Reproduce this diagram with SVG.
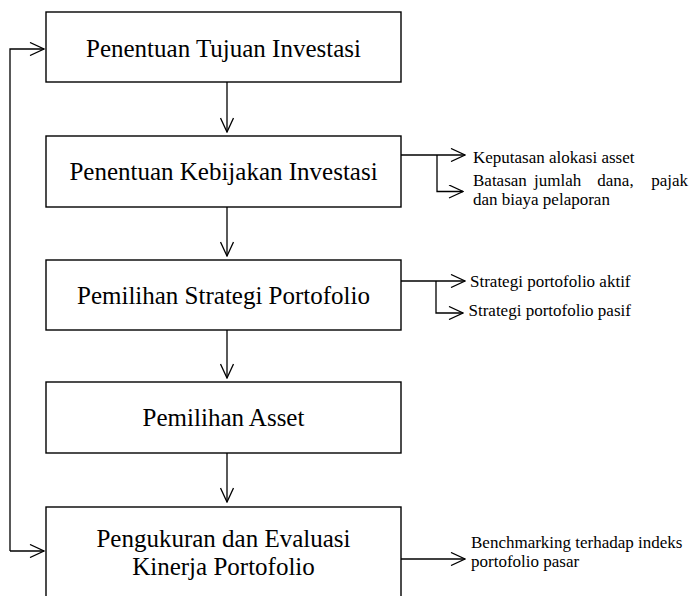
<svg xmlns="http://www.w3.org/2000/svg" width="693" height="596" viewBox="0 0 693 596">
<style>
.box{fill:#fff;stroke:#000;stroke-width:1.4}
.main{font-family:"Liberation Serif","Times New Roman",serif;font-size:25px;fill:#000;text-anchor:middle}
.small{font-family:"Liberation Serif","Times New Roman",serif;font-size:17px;fill:#000}
.conn{fill:none;stroke:#000;stroke-width:1.3}
</style>
<defs>
<marker id="arr" markerUnits="userSpaceOnUse" viewBox="0 0 16 14" markerWidth="16" markerHeight="14" refX="15" refY="7" orient="auto">
<path d="M1,0.5 L15,7 L1,13.5" fill="none" stroke="#000" stroke-width="1.3"/>
</marker>
</defs>
<rect width="693" height="596" fill="#fff"/>
<g id="connectors">
<path class="conn" d="M227,82 V132" marker-end="url(#arr)"/>
<path class="conn" d="M227,207 V256" marker-end="url(#arr)"/>
<path class="conn" d="M227,330 V378" marker-end="url(#arr)"/>
<path class="conn" d="M227,453 V502" marker-end="url(#arr)"/>
<path class="conn" d="M10,551 H44" marker-end="url(#arr)"/>
<path class="conn" d="M10,551 V49 H44" marker-end="url(#arr)"/>
<path class="conn" d="M401,155 H465" marker-end="url(#arr)"/>
<path class="conn" d="M437,155 V191.5 H463" marker-end="url(#arr)"/>
<path class="conn" d="M401,281 H465" marker-end="url(#arr)"/>
<path class="conn" d="M436,281 V313 H463" marker-end="url(#arr)"/>
<path class="conn" d="M401,559 H465" marker-end="url(#arr)"/>
</g>
<g id="n1">
<rect class="box" x="46" y="12" width="355" height="70"/>
<text class="main" x="223.5" y="57">Penentuan Tujuan Investasi</text>
</g>
<g id="n2">
<rect class="box" x="46" y="136" width="355" height="71"/>
<text class="main" x="223.5" y="180">Penentuan Kebijakan Investasi</text>
</g>
<g id="n3">
<rect class="box" x="46" y="260" width="355" height="70"/>
<text class="main" x="223.5" y="303.5">Pemilihan Strategi Portofolio</text>
</g>
<g id="n4">
<rect class="box" x="46" y="382" width="355" height="71"/>
<text class="main" x="223.5" y="426">Pemilihan Asset</text>
</g>
<g id="n5">
<rect class="box" x="46" y="507" width="355" height="95"/>
<text class="main" x="223.5" y="547">Pengukuran dan Evaluasi</text>
<text class="main" x="223.5" y="575">Kinerja Portofolio</text>
</g>
<g id="l1">
<text class="small" x="473" y="162.5">Keputasan alokasi asset</text>
</g>
<g id="l2">
<text class="small" y="186"><tspan x="473">Batasan</tspan><tspan x="534">jumlah</tspan><tspan x="597.3">dana,</tspan><tspan x="688" text-anchor="end">pajak</tspan></text>
<text class="small" x="473" y="205">dan biaya pelaporan</text>
</g>
<g id="l3">
<text class="small" x="470" y="287">Strategi portofolio aktif</text>
</g>
<g id="l4">
<text class="small" x="468.5" y="316">Strategi portofolio pasif</text>
</g>
<g id="l5">
<text class="small" x="471" y="548">Benchmarking terhadap indeks</text>
<text class="small" x="471" y="567">portofolio pasar</text>
</g>
</svg>
